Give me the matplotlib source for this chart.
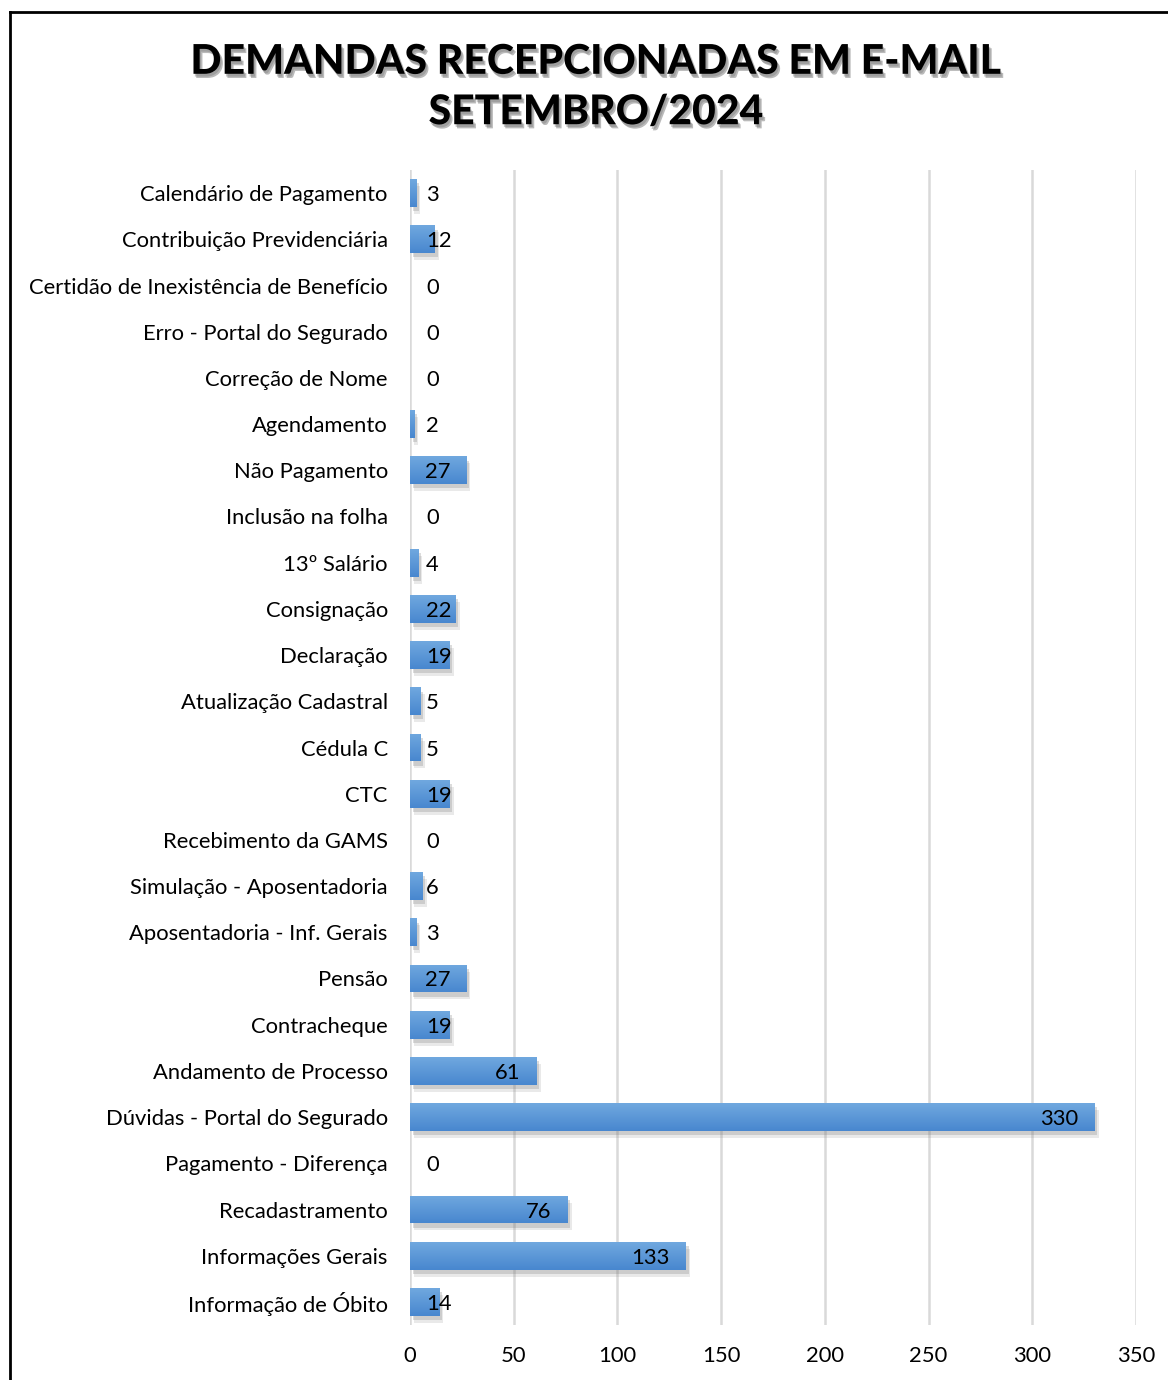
import matplotlib
matplotlib.use("Agg")
import matplotlib.pyplot as plt
import matplotlib.patheffects as pe
from matplotlib.colors import LinearSegmentedColormap
from matplotlib.lines import Line2D
import numpy as np

categories = [
    "Calendário de Pagamento",
    "Contribuição Previdenciária",
    "Certidão de Inexistência de Benefício",
    "Erro - Portal do Segurado",
    "Correção de Nome",
    "Agendamento",
    "Não Pagamento",
    "Inclusão na folha",
    "13º Salário",
    "Consignação",
    "Declaração",
    "Atualização Cadastral",
    "Cédula C",
    "CTC",
    "Recebimento da GAMS",
    "Simulação - Aposentadoria",
    "Aposentadoria - Inf. Gerais",
    "Pensão",
    "Contracheque",
    "Andamento de Processo",
    "Dúvidas - Portal do Segurado",
    "Pagamento - Diferença",
    "Recadastramento",
    "Informações Gerais",
    "Informação de Óbito",
]
values = [3, 12, 0, 0, 0, 2, 27, 0, 4, 22, 19, 5, 5, 19, 0, 6, 3, 27, 19, 61, 330, 0, 76, 133, 14]
xticks = [0, 50, 100, 150, 200, 250, 300, 350]
title = "DEMANDAS RECEPCIONADAS EM E-MAIL\nSETEMBRO/2024"

FONT = "Lato"
plt.rcParams["font.family"] = [FONT, "DejaVu Sans"]
FS = 15.8

fig = plt.figure(figsize=(11.68, 13.8), dpi=100)
W, H = 1168, 1380
ax = fig.add_axes([410 / W, 1 - 1325 / H, (1136 - 410) / W, (1325 - 170) / H])

y = np.arange(len(categories))
bar_h = 0.6
bars = ax.barh(y, values, height=bar_h, color="#5592D6", edgecolor="none", zorder=3)
for b in bars:
    b.set_path_effects([
        pe.SimplePatchShadow(offset=(3, -5), shadow_rgbFace="#888888", alpha=0.18),
        pe.SimplePatchShadow(offset=(2, -3), shadow_rgbFace="#777777", alpha=0.25),
        pe.Normal()])

cmap = LinearSegmentedColormap.from_list("g", ["#70A8DF", "#4887CF"])
grad = np.linspace(0, 1, 64).reshape(-1, 1)
for b, yi, v in zip(bars, y, values):
    if v <= 0:
        continue
    im = ax.imshow(grad, extent=[0, v, yi + bar_h / 2, yi - bar_h / 2], aspect="auto",
                   cmap=cmap, zorder=4, interpolation="bilinear")
    im.set_clip_path(b)

ax.set_xlim(0, 350)
ax.set_ylim(len(categories) - 0.5, -0.5)
ax.set_xticks(xticks)
ax.set_xticklabels([str(t) for t in xticks])
ax.set_yticks(y)
ax.set_yticklabels(categories)
ax.tick_params(axis="both", length=0, labelsize=FS, colors="#000000")
ax.tick_params(axis="y", pad=16)
ax.tick_params(axis="x", pad=15)
ax.grid(axis="x", color="#D9D9D9", linewidth=1.8, zorder=0)
ax.set_axisbelow(True)
for s in ax.spines.values():
    s.set_visible(False)

px_per_unit = (1136 - 410) / 350
for yi, v in zip(y, values):
    if v * px_per_unit >= 56:
        ax.annotate(str(v), (v, yi), xytext=(-16, 0), textcoords="offset pixels",
                    ha="right", va="center_baseline", fontsize=FS, zorder=6)
    else:
        ax.annotate(str(v), (0, yi), xytext=(16, 0), textcoords="offset pixels",
                    ha="left", va="center_baseline", fontsize=FS, zorder=6)

fig.text(596 / W, 1 - 87 / H, title, ha="center", va="center", fontsize=29.5,
         fontweight="black", linespacing=1.4,
         path_effects=[pe.SimplePatchShadow(offset=(2, -3), shadow_rgbFace="#666666", alpha=0.45),
                       pe.withSimplePatchShadow(offset=(1, -2), shadow_rgbFace="#777777", alpha=0.4)])

fig.add_artist(Line2D([10 / W, 10 / W], [0, 1 - 12 / H], transform=fig.transFigure, color="black", linewidth=2))
fig.add_artist(Line2D([10 / W, 1], [1 - 12 / H, 1 - 12 / H], transform=fig.transFigure, color="black", linewidth=2))

fig.savefig("out.png", dpi=100, facecolor="white")
